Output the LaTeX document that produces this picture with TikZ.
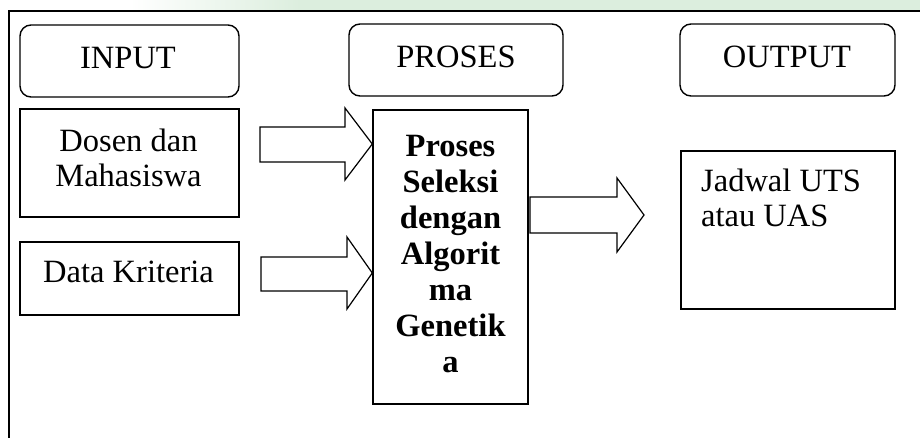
\documentclass[tikz,border=0pt]{standalone}
\usepackage{fontspec}
\setmainfont{Liberation Serif}
\definecolor{wm}{RGB}{220,238,222}
\begin{document}
\begin{tikzpicture}[x=1pt,y=-1pt,
  txt/.style={font=\fontsize{32.5}{35}\selectfont, inner sep=0pt, anchor=base},
  btxt/.style={txt, font=\fontsize{32.5}{35}\selectfont\bfseries},
  box/.style={draw, line width=1.4pt, inner sep=0pt},
  rbox/.style={box, rounded corners=11pt},
  frame/.style={line width=2.2pt},
  blockarrow/.style={draw, line width=1.2pt, fill=white, line join=miter}]
\useasboundingbox (0,0) rectangle (920,438);
% watermark band at the top
\shade[left color=white, right color=wm] (130,0) rectangle (300,10);
\fill[wm] (300,0) rectangle (920,10);
% outer frame (open at right and bottom)
\draw[frame] (9,438) -- (9,11) -- (920,11);
% header boxes
\node[rbox, minimum width=219pt, minimum height=72pt] (inp) at (129.5,61) {};
\node[rbox, minimum width=214pt, minimum height=72pt] (pro) at (456,60) {};
\node[rbox, minimum width=215pt, minimum height=72pt] (out) at (787.5,60) {};
\node[txt] (tinp) at (128,69) {INPUT};
\node[txt] (tpro) at (456,68) {PROSES};
\node[txt] (tout) at (787,68) {OUTPUT};
% input boxes
\node[box, minimum width=219pt, minimum height=108pt] (dosen) at (129.5,163) {};
\node[txt] (d1) at (128.5,152) {Dosen dan};
\node[txt] (d2) at (128.5,187) {Mahasiswa};
\node[box, minimum width=219pt, minimum height=73pt] (data) at (129.5,278.5) {};
\node[txt] (d3) at (128.5,282) {Data Kriteria};
% process box
\node[box, minimum width=155pt, minimum height=294pt] (proc) at (450.5,257) {};
\node[btxt] (p1) at (450.5,157) {Proses};
\node[btxt] (p2) at (450.5,193) {Seleksi};
\node[btxt] (p3) at (450.5,229) {dengan};
\node[btxt] (p4) at (450.5,264) {Algorit};
\node[btxt] (p5) at (450.5,300) {ma};
\node[btxt] (p6) at (450.5,336) {Genetik};
\node[btxt] (p7) at (450.5,372) {a};
% output box
\node[box, minimum width=214pt, minimum height=158pt] (res) at (788,230) {};
\node[txt, anchor=base west] (o1) at (701,192) {Jadwal UTS};
\node[txt, anchor=base west] (o2) at (701,227) {atau UAS};
% block arrows
\draw[blockarrow] (260,127) -- (345,127) -- (345,108) -- (proc.west |- 0,144) -- (345,180) -- (345,162) -- (260,162) -- cycle;
\draw[blockarrow] (261,257) -- (347,257) -- (347,237) -- (proc.west |- 0,273) -- (347,309) -- (347,291) -- (261,291) -- cycle;
\draw[blockarrow] (530,197) -- (617,197) -- (617,178) -- (644,215) -- (617,252) -- (617,233) -- (530,233) -- cycle;
\end{tikzpicture}
\end{document}
